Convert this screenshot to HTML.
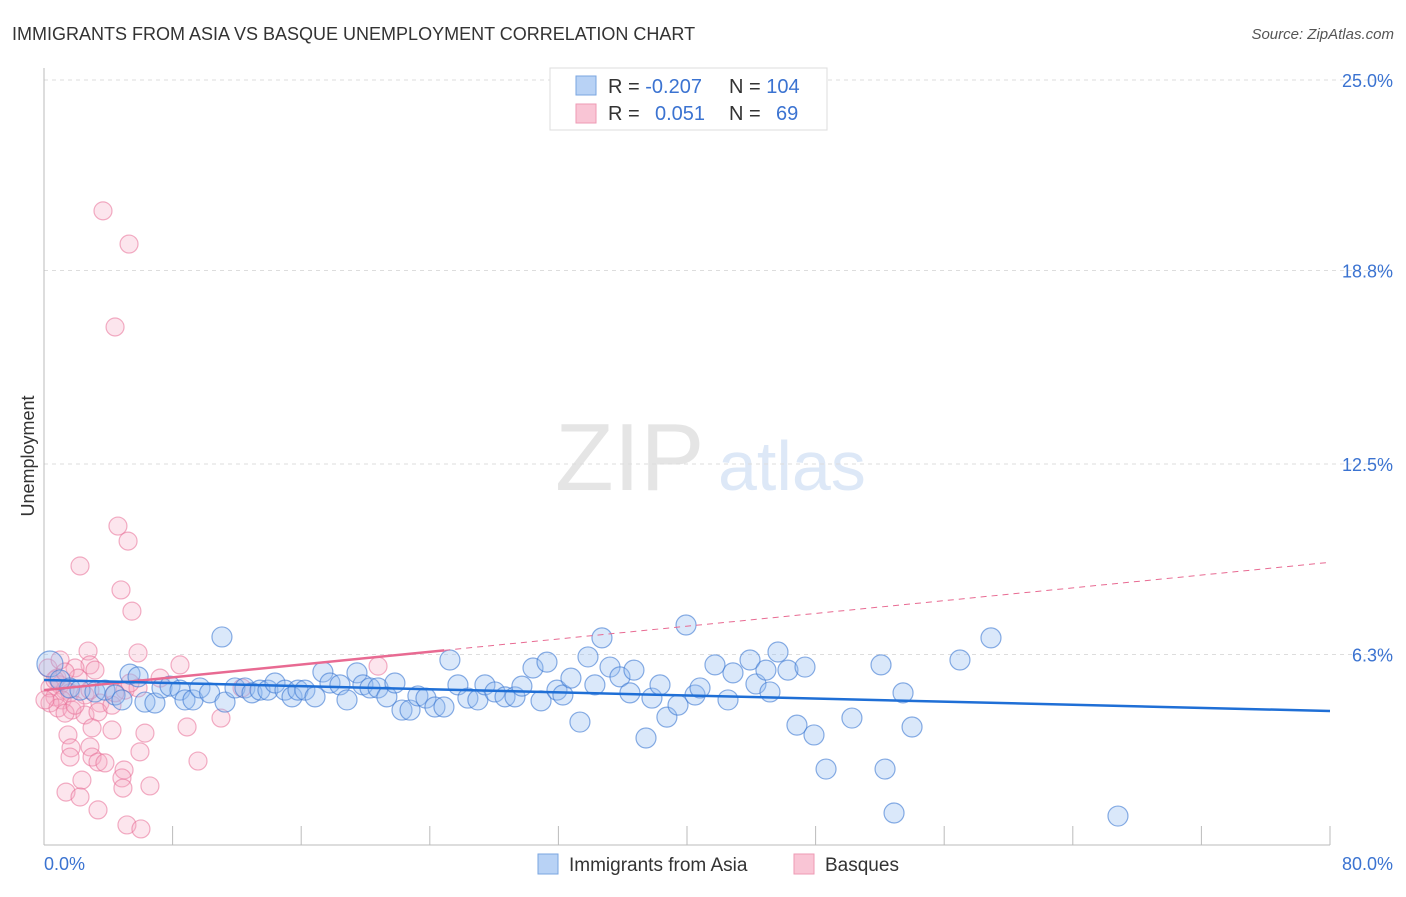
<!DOCTYPE html>
<html><head><meta charset="utf-8"><style>
body{margin:0;background:#fff;font-family:"Liberation Sans",sans-serif;}
svg text{font-family:"Liberation Sans",sans-serif;}
</style></head><body>
<svg id="c" width="1406" height="892" xmlns="http://www.w3.org/2000/svg">
<text x="12" y="40" font-size="18" fill="#333">IMMIGRANTS FROM ASIA VS BASQUE UNEMPLOYMENT CORRELATION CHART</text>
<text x="1394" y="39" font-size="15" fill="#555" font-style="italic" text-anchor="end">Source: ZipAtlas.com</text>
<g opacity="0.25">
<text x="555" y="490" font-size="96" font-family="Liberation Serif,serif" fill="#999">ZIP</text>
<text x="718" y="490" font-size="70" fill="#7aa6e0">atlas</text>
</g>
<g id="grid"></g>
<g id="axes"></g>
<g id="pts"></g>
<g id="trend"></g>
<text transform="translate(34,456) rotate(-90)" font-size="18" fill="#333" text-anchor="middle">Unemployment</text>
<g>
<rect x="550" y="68" width="277" height="62" fill="#fff" stroke="#ddd"/>
<rect x="576" y="76" width="20" height="19" fill="#b8d2f5" stroke="#7aa6e0"/>
<rect x="576" y="104" width="20" height="19" fill="#f9c5d5" stroke="#ee9ab4"/>
<text x="608" y="93" font-size="20" fill="#333">R = <tspan fill="#3b73d1">-0.207</tspan></text>
<text x="729" y="93" font-size="20" fill="#333">N = <tspan fill="#3b73d1">104</tspan></text>
<text x="608" y="120" font-size="20" fill="#333">R = <tspan fill="#3b73d1" x="655">0.051</tspan></text>
<text x="729" y="120" font-size="20" fill="#333">N = <tspan fill="#3b73d1" x="776">69</tspan></text>
</g>
<g>
<rect x="538" y="854" width="20" height="20" fill="#b8d2f5" stroke="#7aa6e0"/>
<text x="569" y="871" font-size="19" fill="#333">Immigrants from Asia</text>
<rect x="794" y="854" width="20" height="20" fill="#f9c5d5" stroke="#ee9ab4"/>
<text x="825" y="871" font-size="19" fill="#333">Basques</text>
</g>
</svg>
<script>
const yTicks=[25,18.8,12.5,6.3];
const yTickLabels=["25.0%","18.8%","12.5%","6.3%"];
const xTicks=[0,8,16,24,32,40,48,56,64,72,80];
const xTickLabels=["0.0%","80.0%"];
const asiaX=[0.37,1.0,1.6,2.24,3.17,3.79,4.42,4.85,5.35,5.85,6.28,6.9,7.34,7.84,8.46,8.77,9.27,9.7,10.3,11.26,11.07,11.88,12.5,12.94,13.44,13.93,14.37,14.99,15.43,15.8,16.23,16.86,17.35,17.79,18.41,18.85,19.47,19.84,20.28,20.78,21.33,21.83,22.27,22.77,23.26,23.76,24.32,24.88,25.25,25.75,26.37,26.99,27.43,28.05,28.68,29.3,29.73,30.42,30.92,31.29,31.91,32.28,32.78,33.34,33.84,34.27,34.71,35.21,35.83,36.45,36.7,37.45,37.82,38.32,38.75,39.44,39.94,40.5,40.81,41.74,42.55,42.86,43.92,44.29,44.91,45.16,45.66,46.28,46.84,47.34,47.9,48.65,50.26,52.07,52.32,52.88,53.44,54.0,56.98,58.91,66.81];
const asiaY=[5.99,5.47,5.21,5.14,5.08,5.14,4.98,4.82,5.66,5.57,4.75,4.72,5.21,5.27,5.14,4.82,4.82,5.21,5.05,4.75,6.87,5.21,5.21,5.05,5.14,5.14,5.37,5.14,4.92,5.14,5.14,4.92,5.73,5.37,5.31,4.82,5.70,5.31,5.21,5.21,4.92,5.37,4.49,4.49,4.95,4.88,4.59,4.59,6.12,5.31,4.88,4.82,5.31,5.08,4.92,4.92,5.27,5.86,4.79,6.05,5.14,4.98,5.53,4.10,6.22,5.31,6.84,5.89,5.57,5.05,5.79,3.58,4.88,5.31,4.26,4.65,7.26,4.98,5.21,5.96,4.82,5.70,6.12,5.34,5.79,5.08,6.38,5.79,4.00,5.89,3.68,2.57,4.23,5.96,2.57,1.14,5.05,3.94,6.12,6.84,1.04];
const basX=[3.67,5.29,4.42,4.6,5.23,2.24,4.79,5.47,2.74,5.85,2.86,0.25,1.93,3.17,0.81,2.12,1.0,0.37,1.31,1.62,0.68,2.55,1.12,3.48,0.37,0.87,1.74,1.31,2.55,3.36,4.23,5.04,5.85,20.78,7.22,2.99,1.49,4.23,6.28,8.9,11.01,1.68,2.86,5.97,1.62,2.99,3.36,3.79,4.98,4.85,9.58,2.36,1.37,2.24,4.91,6.59,3.36,5.16,6.03,12.32,8.46,5.35,0.06,2.86,4.42,1.0,1.93,0.68,1.31];
const basY=[20.74,19.66,16.96,10.48,9.99,9.18,8.4,7.71,6.41,6.35,5.96,5.86,5.86,5.79,5.53,5.53,5.31,5.21,5.14,5.05,4.92,4.98,4.82,4.72,4.72,4.56,4.49,4.39,4.33,4.43,4.65,5.14,5.21,5.92,5.53,3.91,3.68,3.84,3.74,3.94,4.23,3.26,3.29,3.13,2.96,2.96,2.8,2.77,2.54,2.28,2.83,2.21,1.82,1.66,1.95,2.02,1.24,0.75,0.62,5.21,5.96,5.37,4.82,5.14,5.05,6.12,4.65,5.47,5.73];
const asiaTrend=[5.47,4.46];
const basTrend=[5.14,9.3];
const basSolidEnd=24.9;
const X=v=>44+v/80*1286, Y=v=>848-v*30.72;
const NS="http://www.w3.org/2000/svg";
function mk(t,a,p){const e=document.createElementNS(NS,t);for(const k in a)e.setAttribute(k,a[k]);p.appendChild(e);return e;}
const grid=document.getElementById('grid'),axes=document.getElementById('axes'),pts=document.getElementById('pts'),tr=document.getElementById('trend');
yTicks.forEach((t,i)=>{
 const l=mk('line',{x1:44,x2:1394,y1:Y(t),y2:Y(t),stroke:'#ddd','stroke-dasharray':'4,4'},grid);
 
 
 const tx=mk('text',{x:1393,y:Y(t)+7,'font-size':18,fill:'#3b73d1','text-anchor':'end'},axes);
 tx.textContent=yTickLabels[i];
 
 
});
const la=mk('line',{x1:44,x2:44,y1:68,y2:845,stroke:'#bbb'},axes);


const ba=mk('line',{x1:44,x2:1330,y1:845,y2:845,stroke:'#bbb'},axes);


xTicks.forEach(t=>{
 const l=mk('line',{x1:X(t),x2:X(t),y1:826,y2:845,stroke:'#bbb'},axes);
 
 
});
const t0=mk('text',{x:44,y:870,'font-size':18,fill:'#3b73d1'},axes);t0.textContent=xTickLabels[0];


const t1=mk('text',{x:1393,y:870,'font-size':18,fill:'#3b73d1','text-anchor':'end'},axes);t1.textContent=xTickLabels[1];


basX.forEach((v,i)=>{
 const c=mk('circle',{cx:X(v),cy:Y(basY[i]),r:9,fill:'rgba(246,170,195,0.3)',stroke:'rgba(232,110,150,0.55)','stroke-width':1.2},pts);
 
 
});
asiaX.forEach((v,i)=>{
 const c=mk('circle',{cx:X(v),cy:Y(asiaY[i]),r:i==0?13:10,fill:'rgba(150,190,240,0.35)',stroke:'rgba(60,120,210,0.6)','stroke-width':1.2},pts);
 
 
});
const bt=v=>basTrend[0]+(basTrend[1]-basTrend[0])*v/80;
const bd=mk('line',{x1:X(basSolidEnd),y1:Y(bt(basSolidEnd)),x2:X(80),y2:Y(bt(80)),stroke:'#e86a92','stroke-width':1,'stroke-dasharray':'6,5'},tr);


const bs=mk('line',{x1:X(0),y1:Y(bt(0)),x2:X(basSolidEnd),y2:Y(bt(basSolidEnd)),stroke:'#e86a92','stroke-width':2.5},tr);


const at=mk('line',{x1:X(0),y1:Y(asiaTrend[0]),x2:X(80),y2:Y(asiaTrend[1]),stroke:'#1f6fd6','stroke-width':2.5},tr);


</script>
</body></html>
